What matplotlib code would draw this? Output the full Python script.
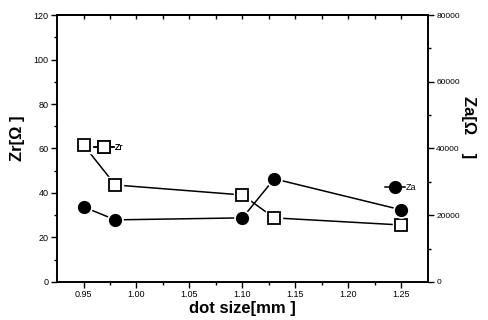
import matplotlib
matplotlib.use("Agg")
import matplotlib.pyplot as plt
from matplotlib.lines import Line2D

dot_size = [0.95, 0.98, 1.10, 1.13, 1.25]
zr = [61.6, 43.6, 39.1, 28.8, 25.6]
za = [22500, 18600, 19200, 30900, 21600]

left_ticks = [0, 20, 40, 60, 80, 100, 120]
right_ticks = [0, 20000, 40000, 60000, 80000]
x_ticks = [0.95, 1.00, 1.05, 1.10, 1.15, 1.20, 1.25]
x_labels = ["0.95", "1.00", "1.05", "1.10", "1.15", "1.20", "1.25"]
top_ticks = [0.95, 0.975, 1.00, 1.025, 1.05, 1.075, 1.10, 1.125, 1.15, 1.175, 1.20, 1.225, 1.25]

plt.rcParams['font.family'] = ['Liberation Sans', 'DejaVu Sans']

fig = plt.figure(figsize=(4.89, 3.2), dpi=100)
ax = fig.add_axes([0.1166, 0.119, 0.7584, 0.834])
ax2 = ax.twinx()

ax.set_xlim(0.925, 1.275)
ax.set_ylim(0, 120)
ax2.set_ylim(0, 80000)

# Zr series (open squares)
ax.plot(dot_size, zr, color='black', lw=1.1, zorder=2)
ax.plot(dot_size, zr, ls='none', marker='s', ms=11, mfc='white', mec='white', zorder=3)
ax.plot(dot_size, zr, ls='none', marker='s', ms=8, mfc='white', mec='black', mew=1.3, zorder=4)

# Za series (filled circles)
ax2.plot(dot_size, za, color='black', lw=1.1, zorder=2)
ax2.plot(dot_size, za, ls='none', marker='o', ms=11, mfc='white', mec='white', zorder=3)
ax2.plot(dot_size, za, ls='none', marker='o', ms=8.5, mfc='black', mec='black', zorder=4)

# legends
h_zr = Line2D([], [], color='black', lw=1.1, marker='s', ms=8, mfc='white', mec='black', mew=1.3)
h_za = Line2D([], [], color='black', lw=1.1, marker='o', ms=8.5, mfc='black', mec='black')
leg1 = ax.legend([h_zr], ["Zr"], loc='center left', bbox_to_anchor=(0.956, 60.5),
                 bbox_transform=ax.transData, frameon=False, handlelength=2.2,
                 handletextpad=0.1, borderpad=0, fontsize=6.5)
ax.add_artist(leg1)
ax2.legend([h_za], ["Za"], loc='center left', bbox_to_anchor=(1.23, 28200),
           bbox_transform=ax2.transData, frameon=False, handlelength=2.2,
           handletextpad=0.1, borderpad=0, fontsize=6.5)

# ticks
ax.set_xticks(x_ticks)
ax.set_xticklabels(x_labels)
ax.set_xticks([0.975, 1.025, 1.075, 1.125, 1.175, 1.225], minor=True)
ax.set_yticks(left_ticks)
ax.set_yticks([10, 30, 50, 70, 90, 110], minor=True)
ax2.set_yticks(right_ticks)
ax2.set_yticklabels(["0", "20000", "40000", "60000", "80000"])
ax2.set_yticks([10000, 30000, 50000, 70000], minor=True)

ax.tick_params(axis='both', which='major', direction='out', length=4, width=1, labelsize=6.5, pad=2)
ax.tick_params(axis='both', which='minor', direction='out', length=2.5, width=1)
ax.tick_params(axis='x', which='both', top=False, labeltop=False)
ax2.tick_params(axis='y', which='major', direction='out', length=4, width=1, labelsize=6, pad=2)
ax2.tick_params(axis='y', which='minor', direction='out', length=2.5, width=1)

secx = ax.secondary_xaxis('top')
secx.set_xticks(top_ticks)
secx.tick_params(axis='x', direction='in', length=3, width=1, labeltop=False)

for a in (ax, ax2):
    for s in a.spines.values():
        s.set_linewidth(1.2)
secx.spines['top'].set_linewidth(1.2)

ax.set_xlabel("dot size[mm ]", fontsize=12, fontweight='bold', labelpad=1)
ax.set_ylabel("Zr[Ω ]", fontsize=12, fontweight='bold')
ax.yaxis.set_label_coords(-0.085, 0.54)
ax2.set_ylabel("Za[Ω    ]", fontsize=12, fontweight='bold', rotation=270)
ax2.yaxis.set_label_coords(1.11, 0.58)
ax2.yaxis.label.set_va('center')

fig.savefig("out.png", dpi=100)
